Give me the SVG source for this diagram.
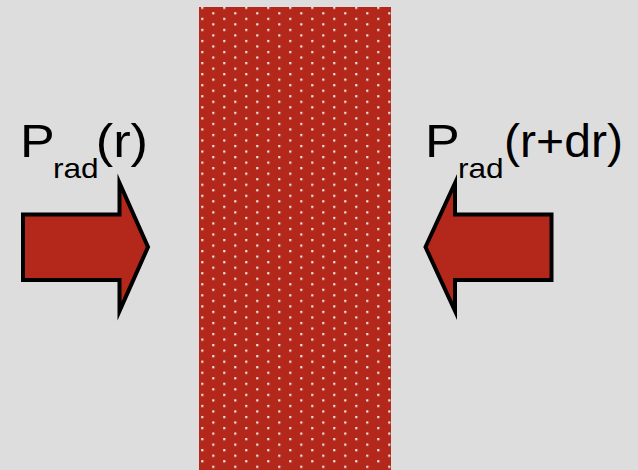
<svg xmlns="http://www.w3.org/2000/svg" width="638" height="470" viewBox="0 0 638 470">
<style>
.arrow{fill:#b3281a;stroke:#000;stroke-width:4;stroke-linejoin:miter;stroke-miterlimit:10}
.lbl{font-family:"Liberation Sans",Arial,sans-serif;fill:#000}
.main{font-size:46px}
.sub{font-size:28px}
</style>
<defs>
<pattern id="dots" patternUnits="userSpaceOnUse" x="201.2" y="6.7" width="22" height="11.06">
<rect x="0" y="0" width="2.2" height="2.2" fill="#ebe6e6"/>
<rect x="11" y="5.53" width="2.2" height="2.2" fill="#ebe6e6"/>
</pattern>
</defs>
<rect x="0" y="0" width="638" height="470" fill="#dddddd"/>
<g id="slab">
<rect x="199" y="7" width="192" height="463" fill="#b3281a"/>
<rect x="199" y="7" width="192" height="463" fill="url(#dots)"/>
</g>
<g id="arrow-left">
<polygon class="arrow" points="23,214.5 119.5,214.5 119.5,183 148,247 119.5,311 119.5,280 23,280"/>
</g>
<g id="arrow-right">
<polygon class="arrow" points="551.5,214.5 455,214.5 455,183 425.5,247 455,311 455,280 551.5,280"/>
</g>
<g id="label-left" class="lbl">
<text class="main" x="20" y="156.5" textLength="34.7" lengthAdjust="spacingAndGlyphs">P</text>
<text class="sub" x="53" y="178" textLength="45.7" lengthAdjust="spacingAndGlyphs">rad</text>
<text class="main" x="95.7" y="156.5" textLength="52.4" lengthAdjust="spacingAndGlyphs">(r)</text>
</g>
<g id="label-right" class="lbl">
<text class="main" x="425" y="156.5" textLength="34.7" lengthAdjust="spacingAndGlyphs">P</text>
<text class="sub" x="458" y="178" textLength="45.7" lengthAdjust="spacingAndGlyphs">rad</text>
<text class="main" x="504" y="156.5" textLength="119" lengthAdjust="spacingAndGlyphs">(r+dr)</text>
</g>
</svg>
